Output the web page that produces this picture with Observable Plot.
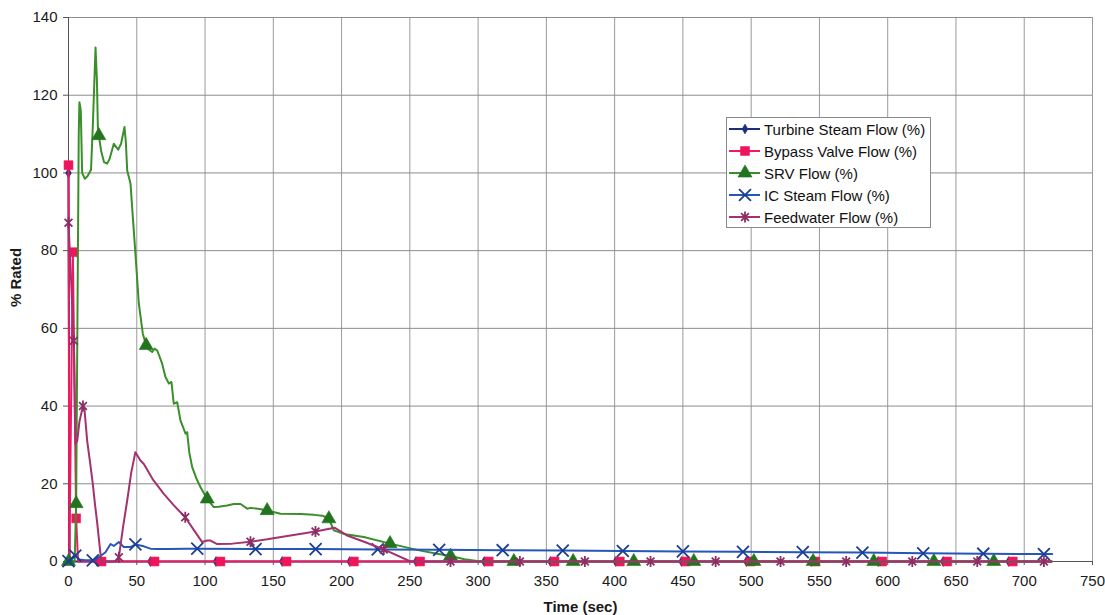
<!DOCTYPE html>
<html>
<head>
<meta charset="utf-8">
<script src="https://cdn.jsdelivr.net/npm/d3@7"></script>
<script src="https://cdn.jsdelivr.net/npm/@observablehq/plot@0.6"></script>
<style>
  html, body { margin: 0; padding: 0; background: #fff; }
  #chart { position: relative; width: 1105px; height: 615px; font-family: "Liberation Sans", Arial, sans-serif; }
  #chart svg { display: block; }
  g[aria-label="x-axis label"] text, g[aria-label="y-axis label"] text { font-weight: bold; font-size: 15px; }
  .legend { position: absolute; left: 726px; top: 117px; width: 205px; height: 111px; box-sizing: border-box;
            border: 1px solid #8a8a8a; background: #fff; }
  .legend-row { display: flex; align-items: center; height: 22px; font-size: 15px; color: #111; white-space: nowrap; }
  .legend-row svg { margin-left: 2px; flex: none; }
</style>
</head>
<body>
<div id="chart"></div>
<script>
// Axis ticks
const xTicks = [0, 50, 100, 150, 200, 250, 300, 350, 400, 450, 500, 550, 600, 650, 700, 750];
const yTicks = [0, 20, 40, 60, 80, 100, 120, 140];

// Series names, in legend order
const seriesNames = ["Turbine Steam Flow (%)", "Bypass Valve Flow (%)", "SRV Flow (%)", "IC Steam Flow (%)", "Feedwater Flow (%)"];

// Turbine steam flow: [time (sec), % rated]
const turbineTrace = [[0,100],[0.8,0],[21,0],[60,0],[108,0],[156.5,0],[206,0],[254.5,0],[304.5,0],[353,0],[400.8,0],[449,0],[496.5,0],[544,0],[593,0],[640.6,0],[688.6,0],[720,0]];
const turbineMarks = [[0,100],[21,0],[60,0],[108,0],[156.5,0],[206,0],[254.5,0],[304.5,0],[353,0],[400.8,0],[449,0],[496.5,0],[544,0],[593,0],[640.6,0],[688.6,0]];

// Bypass valve flow
const bypassTrace = [[0,102],[0.6,1],[3.2,79.6],[5.6,11.1],[7,0],[24.2,0],[63,0],[111.3,0],[159.7,0],[209,0],[257.5,0],[307.8,0],[356,0],[403.8,0],[452,0],[499.5,0],[547,0],[596,0],[643.6,0],[691.6,0],[720,0]];
const bypassMarks = [[0,102],[3.2,79.6],[5.6,11.1],[24.2,0],[63,0],[111.3,0],[159.7,0],[209,0],[257.5,0],[307.8,0],[356,0],[403.8,0],[452,0],[499.5,0],[547,0],[596,0],[643.6,0],[691.6,0]];

// Safety relief valve flow
const srvTrace = [[0,0],[4.5,0],[5.6,14.9],[6.5,60],[7.5,110],[8,118.2],[9,116],[10,100],[12,98.5],[14,99.2],[16.5,100.8],[17.8,112],[19.8,132.3],[20.8,124],[21.5,112],[22.2,109.6],[24,105.5],[26,102.8],[28.3,102.4],[30,103.5],[33.2,107.5],[36.4,106],[38.5,107.5],[41,111.8],[42,108],[43,100.6],[45.4,97.3],[47.8,85.2],[49,79.3],[51.5,66.4],[54.4,58.7],[56.9,55.6],[59,54.5],[61.3,53.9],[63,54.8],[65,54.3],[68.6,50.9],[71,47.5],[73.5,45.8],[75.4,46.2],[77.1,40.6],[79.6,41],[82,36.3],[85.7,32.9],[86.9,33.3],[88.5,28],[90.6,24.3],[93.5,21.5],[96.7,19.1],[101.6,16.1],[106.4,14],[110,14.1],[116.2,14.4],[121,14.8],[126,14.8],[130.9,13.6],[133.3,13.8],[140,13.5],[145.5,13.1],[155.3,12.3],[170,12.2],[179.7,12],[186,11.8],[190.7,11],[194.3,8],[201.6,7.1],[216.3,6.3],[235.5,4.6],[257.8,2.8],[270,2],[279.8,1.4],[290,0.6],[301.8,0],[326.2,0],[369.6,0],[414,0],[458,0],[502,0],[545.4,0],[589.8,0],[633.8,0],[677.7,0],[720,0]];
const srvMarks = [[0,0],[5.6,14.9],[22.2,109.6],[56.9,55.6],[101.6,16.1],[145.5,13.1],[190.7,11],[235.5,4.6],[279.8,1.4],[326.2,0],[369.6,0],[414,0],[458,0],[502,0],[545.4,0],[589.8,0],[633.8,0],[677.7,0]];

// Isolation condenser steam flow
const icTrace = [[0,0.1],[5,1.5],[8,0.5],[12,0.3],[17.8,0.3],[22.2,1.1],[27.1,2.4],[30.8,4.5],[33.2,4],[36.9,5],[40.5,3.7],[45.4,3.7],[49,4.4],[55.2,3.9],[60,3.3],[65,3.2],[73.5,3.2],[85.7,3.3],[94.3,3.3],[137,3.2],[181,3.2],[226.5,3.1],[271.5,3],[318,2.9],[362,2.8],[406,2.7],[450,2.6],[494,2.5],[537.8,2.4],[581.5,2.3],[626,2.1],[670,2],[714.4,1.9],[720.5,1.9]];
const icMarks = [[0,0.1],[5,1.5],[17.8,0.3],[49,4.4],[94.3,3.3],[137,3.2],[181,3.2],[226.5,3.1],[271.5,3],[318,2.9],[362,2.8],[406,2.7],[450,2.6],[494,2.5],[537.8,2.4],[581.5,2.3],[626,2.1],[670,2],[714.4,1.9]];

// Feedwater flow
const feedTrace = [[0,87.2],[3.9,56.8],[5.1,30.3],[6.4,31],[8,36],[10.6,40],[11.6,39.5],[13.7,31],[16,25],[17.8,20],[19.3,15],[21,10],[22.5,5],[24,0],[34.4,0],[36.9,1.1],[40,9],[43,15.7],[46,23],[49,28.1],[52.7,26],[55.2,25.1],[62,21],[69.8,17.4],[77,14.5],[85.5,11.4],[92,8],[97.9,5],[101.6,5.4],[104,5.4],[108.9,4.5],[120,4.6],[133.3,5.1],[145.5,5.7],[162.6,6.7],[180.9,7.7],[194.8,8.7],[204,6.7],[218,4.9],[230.9,3.1],[250.5,0],[279.8,0],[330.6,0],[378.2,0],[426.3,0],[474,0],[521.5,0],[569.6,0],[618,0],[665.6,0],[714.4,0],[720,0]];
const feedMarks = [[0,87.2],[3.9,56.8],[10.6,40],[36.9,1.1],[85.5,11.4],[133.3,5.1],[180.9,7.7],[230.9,3.1],[279.8,0],[330.6,0],[378.2,0],[426.3,0],[474,0],[521.5,0],[569.6,0],[618,0],[665.6,0],[714.4,0]];

// Styling per series (same order as seriesNames)
const lineColors = ["#1c2f7a", "#f2195f", "#3b8f2b", "#2557b8", "#a3326f"];
const markColors = ["#1c2f7a", "#f0145a", "#23741e", "#1a3e92", "#8c2d66"];

// Star marker: a vertical bar crossed by an X
const starSymbol = {
  draw(context, size) {
    const r = Math.sqrt(size / Math.PI);
    const d = r * 0.7071;
    context.moveTo(0, -r); context.lineTo(0, r);
    context.moveTo(-d, -d); context.lineTo(d, d);
    context.moveTo(-d, d); context.lineTo(d, -d);
  }
};
const symbols = [d3.symbolDiamond, d3.symbolSquare, d3.symbolTriangle, d3.symbolTimes, starSymbol];
const markRadius = [3, 5, 5.2, 5.5, 5.5];
const strokeMarks = [false, false, false, true, true];

const traces = [turbineTrace, bypassTrace, srvTrace, icTrace, feedTrace];
const marksData = [turbineMarks, bypassMarks, srvMarks, icMarks, feedMarks];

const seriesMarks = [];
traces.forEach((trace, i) => {
  seriesMarks.push(Plot.line(trace, {x: d => d[0], y: d => d[1], stroke: lineColors[i], strokeWidth: 2}));
  seriesMarks.push(Plot.dot(marksData[i], {
    x: d => d[0], y: d => d[1], symbol: symbols[i], r: markRadius[i],
    fill: strokeMarks[i] ? "none" : markColors[i],
    stroke: markColors[i], strokeWidth: strokeMarks[i] ? 1.8 : 0.6
  }));
});

const chart = Plot.plot({
  width: 1105,
  height: 615,
  marginLeft: 68,
  marginRight: 13,
  marginTop: 17,
  marginBottom: 54,
  style: {fontFamily: "'Liberation Sans', Arial, sans-serif", fontSize: "15px", background: "#fff", color: "#1a1a1a"},
  x: {domain: [0, 750]},
  y: {domain: [0, 140]},
  marks: [
    Plot.gridX(xTicks, {stroke: "#9a9a9a", strokeOpacity: 1}),
    Plot.gridY(yTicks, {stroke: "#8c8c8c", strokeOpacity: 1}),
    Plot.axisX(xTicks, {tickSize: 4, tickPadding: 10, label: "Time (sec)", labelAnchor: "center", labelOffset: 50, labelArrow: "none", stroke: "#555"}),
    Plot.axisY(yTicks, {tickSize: 5, tickPadding: 6, label: "% Rated", labelAnchor: "center", labelOffset: 58, labelArrow: "none", stroke: "#555"}),
    Plot.ruleX([0], {stroke: "#555"}),
    Plot.ruleY([0], {stroke: "#555"}),
    ...seriesMarks
  ]
});

const root = d3.select("#chart");
root.node().appendChild(chart);

// Nudge the y-axis title slightly above the plot's vertical centre
d3.select(chart).selectAll('g[aria-label="y-axis label"]').each(function () {
  const t = this.getAttribute("transform") || "";
  this.setAttribute("transform", (t + " translate(0,-12)").trim());
});

// Legend box inside the plot area
const legend = root.append("div").attr("class", "legend");
seriesNames.forEach((name, i) => {
  const row = legend.append("div").attr("class", "legend-row");
  const sw = row.append("svg").attr("width", 35).attr("height", 22);
  sw.append("line").attr("x1", 0).attr("x2", 31).attr("y1", 11).attr("y2", 11)
    .attr("stroke", lineColors[i]).attr("stroke-width", 2);
  const size = Math.PI * markRadius[i] * markRadius[i];
  sw.append("path")
    .attr("transform", "translate(16,11)")
    .attr("d", d3.symbol(symbols[i], size)())
    .attr("fill", strokeMarks[i] ? "none" : markColors[i])
    .attr("stroke", markColors[i])
    .attr("stroke-width", strokeMarks[i] ? 1.8 : 0.6);
  row.append("span").text(name);
});
</script>
</body>
</html>
